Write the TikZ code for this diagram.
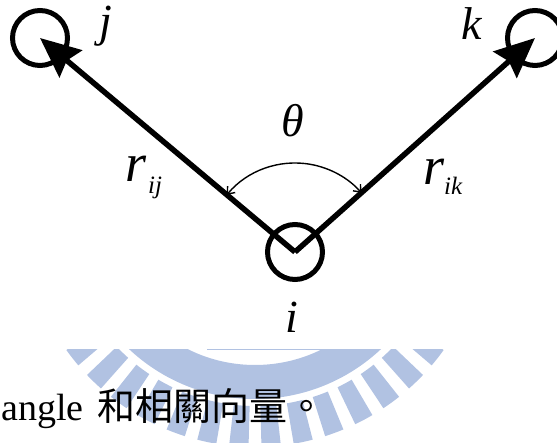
\documentclass[tikz,border=0pt]{standalone}
\usepackage{fontspec}
\setmainfont{Liberation Serif}
\newfontfamily\cjk{Noto Sans CJK TC}
\usepackage{tikz}
\usetikzlibrary{arrows.meta, calc}
\definecolor{wmblue}{RGB}{177,194,226}

\begin{document}
\begin{tikzpicture}[x=1pt, y=1pt,
  atom/.style={circle, draw, line width=5pt, minimum size=55pt, inner sep=0pt},
  bond/.style={line width=5.5pt, -{Stealth[length=40pt, width=35pt, inset=5pt]}},
  angarc/.style={line width=1.4pt,
    {Straight Barb[length=6pt, width=10pt]}-{Straight Barb[length=6pt, width=10pt]}},
  lbl/.style={inner sep=0pt, font=\fontsize{46}{46}\selectfont\itshape}]

  \useasboundingbox (0,0) rectangle (557,443);

  % watermark behind the figure
  \begin{scope}
    \clip (0,0) rectangle (557,93);
    \begin{scope}[shift={(255,228)}]
      \fill[wmblue, even odd rule] (0,0) circle[radius=184] (0,0) circle[radius=150];
      \foreach \a in {-158,-150,...,-22}
        \fill[wmblue] (\a-2.4:191) arc[start angle=\a-2.4, end angle=\a+2.4, radius=191]
          -- (\a+2.4:232) arc[start angle=\a+2.4, end angle=\a-2.4, radius=232] -- cycle;
    \end{scope}
  \end{scope}
  \draw[wmblue, line width=1pt] (207,93) -- (348,93);

  \node[atom] (i) at (295,191) {};
  \node[atom] (j) at (40,405) {};
  \node[atom] (k) at (535,405) {};

  \draw[bond] (i.center) -- (j.center);
  \draw[bond] (i.center) -- (k.center);
  \draw[angarc] ($(i.center)+(140:89)$) arc[start angle=140, end angle=41.7, radius=89];

  \node[lbl] (jlbl) at (106,417) {j};
  \node[lbl] (klbl) at (472,419) {k};
  \node[lbl] (ilbl) at (292,126) {i};
  \node[lbl] (theta) at (293,322) {θ};
  \node[lbl, anchor=base west, font=\fontsize{54}{54}\selectfont\itshape] (rij) at (125,261)
    {r\kern2pt\raisebox{-12pt}{\fontsize{25}{25}\selectfont ij}};
  \node[lbl, anchor=base west, font=\fontsize{54}{54}\selectfont\itshape] (rik) at (423,258)
    {r\kern0pt\raisebox{-10pt}{\fontsize{25}{25}\selectfont ik}};

  \node[anchor=base west, inner sep=0pt, font=\fontsize{38}{38}\selectfont] (caption) at (1,22)
    {angle\hspace{14pt}{\cjk 和相關向量。}};
\end{tikzpicture}
\end{document}
